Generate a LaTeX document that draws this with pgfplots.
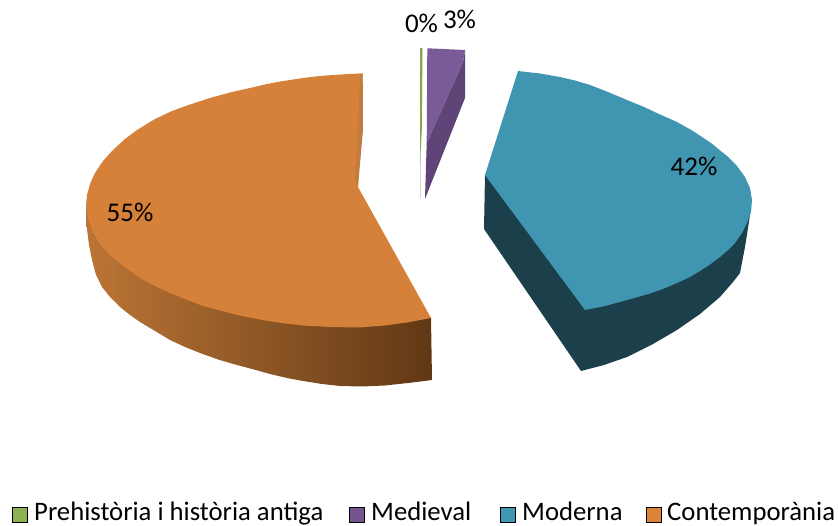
\documentclass[border=0pt]{standalone}
\usepackage{fontspec}
\setmainfont{Carlito}
\usepackage{pgfplots}
\pgfplotsset{compat=1.18}
\definecolor{otop}{HTML}{D6813A}
\definecolor{oside}{HTML}{C17C3E}
\definecolor{owl}{HTML}{BC7535}
\definecolor{owr}{HTML}{603815}
\definecolor{btop}{HTML}{4095B0}
\definecolor{bwall}{HTML}{1C3F4C}
\definecolor{ptop}{HTML}{7B5A98}
\definecolor{pdark}{HTML}{5F4478}
\definecolor{gtop}{HTML}{8CA24C}
\definecolor{lg}{HTML}{8EB153}
\definecolor{lp}{HTML}{74558F}
\definecolor{lb}{HTML}{3F97B2}
\definecolor{lo}{HTML}{DD8339}
\begin{document}
\begin{tikzpicture}
\begin{axis}[
  name=ax,
  scale only axis, width=838pt, height=526pt,
  xmin=0, xmax=838, ymin=0, ymax=526, y dir=reverse,
  hide axis, clip=false,
  every axis plot/.append style={line width=0pt, forget plot, line join=round},
]
% orange wall
\addplot[draw=none, left color=owl, right color=owr] coordinates {
(86,205)(86.5,225)(89,245)(92,260)(96,275)(102,287)(110,297)(120,307)(130,315)(140,322)(155,331)(170,340)(185,347)(200,353)(218,359.5)(237,365)(254,369.5)(270,374)(287,378)(303,381)(322,384)(340,386)(362,386.5)(385,385.5)(408,383)(432,380)(431,318)(359,250)(86,205)
};
% orange top
\addplot[draw=none, fill=otop] coordinates {
(362.7,73.3)(340,74.5)(320,76)(303,78)(280,81.5)(265,84.5)(250,88)(230,92.5)(210,98)(190,104.5)(172,111)(155,119)(137,130)(125,139)(113,150)(103,161)(95,173)(90,184)(87,195)(86,205)(88,218)(92,230)(98,241)(106,251)(113,258)(126,268)(140,278)(155,286)(170,293)(185,299)(203,306)(222,311)(237,315)(265,320.5)(285,323.5)(303,325.5)(330,327)(359,327.5)(385,325.5)(407,322.5)(431,318)(358,187)(362.7,73.3)
};
% orange inner sliver
\addplot[draw=none, fill=oside] coordinates {
(362.7,73.3)(363,130)(358,187)(355,178)(358,125)(360,75)(362.7,73.3)
};
% blue wall
\addplot[draw=none, fill=bwall] coordinates {
(485,175)(484,229)(581,371)(604,365)(627,357)(653,344)(677,330)(700,314)(720,297)(733,282)(740,273)(745,247)(748,228)(751,208)(585,250)(485,175)
};
% blue top
\addplot[draw=none, fill=btop] coordinates {
(518,71)(540,73.5)(560,77)(575,80.5)(590,85)(608,92)(627,100)(644,107)(660,114.5)(677,122)(693,131)(711,143)(727,156)(737,166)(745,177)(750,188)(752,200)(751,212)(747,223)(742,233)(735,243)(728,250)(720,257)(710,264.5)(700,271)(689,277.5)(677,283)(664,288.5)(650,293.5)(638,297)(627,300)(605,306)(585,310)(485,175)(518,71)
};
% purple
\addplot[draw=none, fill=pdark] coordinates {
(463,62)(465,50)(465,98)(425,199)(426.7,143)(463,62)
};
\addplot[draw=none, fill=ptop] coordinates {
(427.3,48.3)(465,50)(463,62)(426.7,143)(427.3,48.3)
};
% green
\addplot[draw=none, fill=gtop] coordinates {
(420,48)(422.5,48)(421.8,130)(420.8,150)(420,150)(420,48)
};
\addplot[draw=none, fill=black!25] coordinates {
(420,150)(420.8,150)(420.6,198)(420,198)(420,150)
};
% legend keys
\addplot[only marks, mark=square*, mark size=7.5pt, mark options={draw=none, fill=lg}] coordinates {(19.5,514.5)};
\addplot[only marks, mark=square*, mark size=7.5pt, mark options={draw=none, fill=lp}] coordinates {(356.5,514.5)};
\addplot[only marks, mark=square*, mark size=7.5pt, mark options={draw=none, fill=lb}] coordinates {(507.5,514.5)};
\addplot[only marks, mark=square*, mark size=7.5pt, mark options={draw=none, fill=lo}] coordinates {(653.5,514.5)};
\node[anchor=base west, inner sep=0pt, font=\fontsize{26.7}{27}\selectfont] at (axis cs:34,520.5) {Prehistòria i història antiga};
\node[anchor=base west, inner sep=0pt, font=\fontsize{26.7}{27}\selectfont] at (axis cs:371,520.5) {Medieval};
\node[anchor=base west, inner sep=0pt, font=\fontsize{26.7}{27}\selectfont] at (axis cs:522,520.5) {Moderna};
\node[anchor=base west, inner sep=0pt, font=\fontsize{26.7}{27}\selectfont] at (axis cs:667,520.5) {Contemporània};
\node[anchor=base, inner sep=0pt, font=\fontsize{27}{27}\selectfont] at (axis cs:421.5,33) {0\%};
\node[anchor=base, inner sep=0pt, font=\fontsize{27}{27}\selectfont] at (axis cs:459.5,29) {3\%};
\node[anchor=base, inner sep=0pt, font=\fontsize{27}{27}\selectfont] at (axis cs:694,176) {42\%};
\node[anchor=base, inner sep=0pt, font=\fontsize{27}{27}\selectfont] at (axis cs:130,222) {55\%};
\end{axis}
\pgfresetboundingbox
\path[use as bounding box] (ax.south west) rectangle (ax.north east);
\end{tikzpicture}
\end{document}
